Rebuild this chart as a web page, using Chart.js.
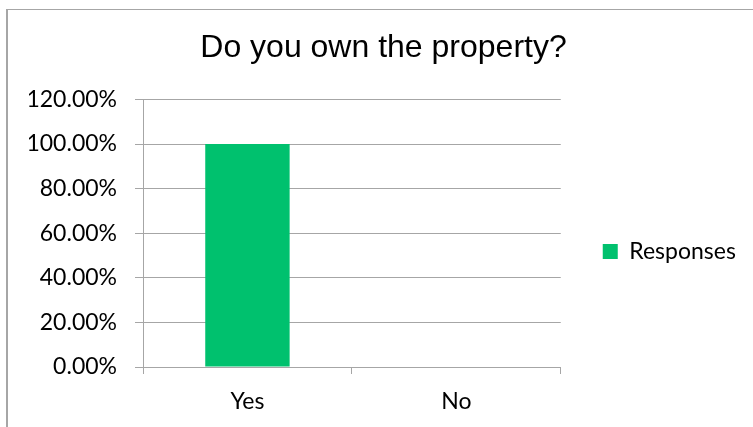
<!DOCTYPE html>
<html>
<head>
<meta charset="utf-8">
<script src="https://cdn.jsdelivr.net/npm/chart.js@4.4.0/dist/chart.umd.min.js"></script>
<style>
  html, body { margin: 0; padding: 0; background: #fff; }
  #wrap { position: absolute; left: 0; top: 0; width: 753px; height: 427px; }
  #frame { position: absolute; left: 6px; top: 9px; width: 760px; height: 430px;
           border-left: 2px solid #a6a6a6; border-top: 1px solid #a6a6a6; box-sizing: border-box; }
  canvas { position: absolute; left: 0; top: 0; }
</style>
</head>
<body>
<div id="wrap">
  <div id="frame"></div>
  <canvas id="c" width="753" height="427"></canvas>
</div>
<script>
const categories = ['Yes', 'No'];
const responses = [1.0, 0.0];
const yTicks = [0, 0.2, 0.4, 0.6, 0.8, 1.0, 1.2];
const seriesName = 'Responses';
const chartTitle = 'Do you own the property?';

const ctx = document.getElementById('c');
new Chart(ctx, {
  type: 'bar',
  data: {
    labels: categories,
    datasets: [{
      label: seriesName,
      data: responses,
      backgroundColor: '#00c16e',
      borderWidth: 0,
      categoryPercentage: 1.0,
      barPercentage: 0.404
    }]
  },
  options: {
    responsive: false,
    animation: false,
    devicePixelRatio: 1,
    layout: { padding: { left: 29, right: 15, top: 0, bottom: 0 } },
    plugins: {
      title: {
        display: true,
        text: chartTitle,
        color: '#000',
        font: { family: 'Liberation Sans', size: 32, weight: 'normal', lineHeight: 1.2 },
        padding: { top: 29, bottom: 32 }
      },
      legend: {
        display: true,
        position: 'right',
        title: { display: true, text: ' ', font: { size: 10, lineHeight: 1 }, padding: { top: 0, bottom: 66 } },
        labels: {
          boxWidth: 15,
          boxHeight: 15,
          padding: 42,
          color: '#000',
          font: { family: 'Lato', size: 23 }
        }
      },
      tooltip: { enabled: false }
    },
    scales: {
      x: {
        offset: true,
        grid: { offset: true, drawOnChartArea: false, drawTicks: true, tickLength: 7, color: '#a6a6a6' },
        border: { display: true, color: '#a6a6a6', width: 1 },
        ticks: { color: '#000', font: { family: 'Lato', size: 23 }, padding: 14 },
        afterFit: (s) => { s.height = 60; }
      },
      y: {
        min: 0,
        max: 1.2,
        afterBuildTicks: (s) => { s.ticks = yTicks.map(v => ({ value: v })); },
        grid: { color: '#a6a6a6', tickLength: 8, drawTicks: true },
        border: { display: true, color: '#a6a6a6', width: 1 },
        ticks: {
          color: '#000',
          font: { family: 'Lato', size: 23 },
          padding: 18,
          callback: (v) => (v * 100).toFixed(2) + '%'
        },
        afterFit: (s) => { s.width = 114; }
      }
    }
  }
});
</script>
</body>
</html>
